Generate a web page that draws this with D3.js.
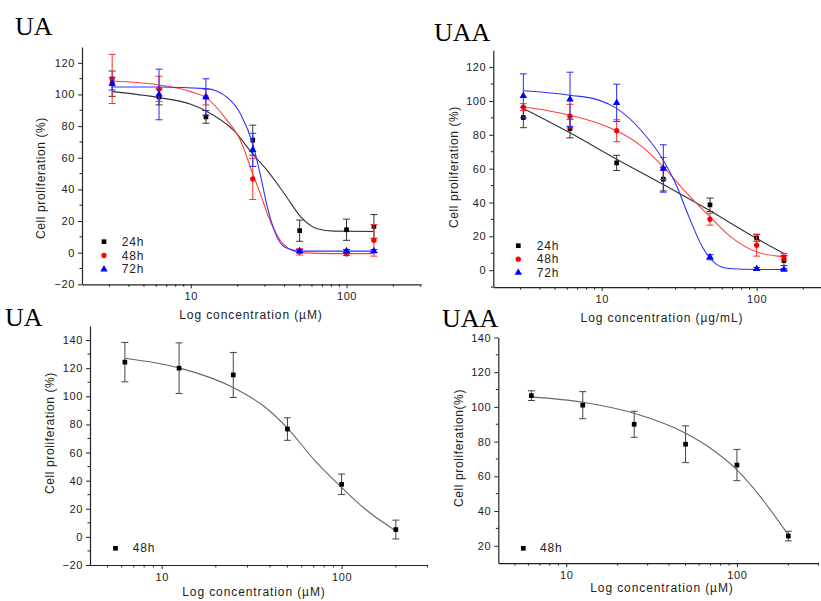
<!DOCTYPE html>
<html>
<head>
<meta charset="utf-8">
<script src="https://cdn.jsdelivr.net/npm/d3@7"></script>
<style>
  body { margin: 0; background: #fff; }
  svg text { font-family: "Liberation Sans", Arial, sans-serif; fill: #222; }
  .title { font-family: "Liberation Serif", "Times New Roman", serif; fill: #000; }
</style>
</head>
<body>
<div id="chartDiv"></div>
<script>
// concentrations
var concTop = [3.125, 6.25, 12.5, 25, 50, 100, 150];
var concBottom = [6.25, 12.5, 25, 50, 100, 200];

// UA (top left), mean and error
var ua24 = [106.8, 98.4, 85.8, 71.1, 13.9, 14.5, 16.6];
var ua24Err = [8, 5, 4, 9.5, 6.7, 6.7, 7.5];
var ua48 = [109.8, 103.5, 98.4, 46.6, 0.5, -0.8, 7.8];
var ua48Err = [15.5, 8, 5, 13, 2, 1, 10];
var ua72 = [106.8, 100, 98.4, 65, 1, 1, 1];
var ua72Err = [4, 16, 11.5, 10.5, 1, 1, 1];

// UAA (top right)
var uaa24 = [90.2, 83.7, 63.4, 53.8, 38.6, 19.1, 5.7];
var uaa24Err = [6, 5.5, 4.5, 7, 4, 2, 3];
var uaa48 = [96.4, 91, 82.4, 60.1, 30.1, 14.8, 7.9];
var uaa48Err = [2, 7, 6.5, 6.5, 3.5, 6.5, 2];
var uaa72 = [103, 101, 98.9, 60.1, 7.7, 0.8, 0.4];
var uaa72Err = [13, 16, 11, 14, 1.5, 0.8, 0.5];

// bottom panels, 48h
var uaB48 = [124.3, 120, 115.2, 76.7, 37.4, 5.2];
var uaB48Err = [14, 18, 16, 8, 7.3, 6.7];
var uaaB48 = [106.5, 101, 90, 78.5, 66.5, 25.6];
var uaaB48Err = [2.8, 7.8, 7.5, 10.6, 9, 2.8];

// fitted curves as [concentration, value]
var uaFit24 = [[3.125,101.8],[6.25,98],[10,93.8],[12.5,89.6],[19,77],[25,62.3],[31,51.8],[40,37.1],[51,22.5],[65,15.1],[83,13.6],[150,13.4]];
var uaFit48 = [[3.125,108.5],[6.25,106],[10,101.8],[12.5,98],[17.2,83.3],[20.9,70.7],[25,49.7],[28,37],[31,24.6],[40,4.6],[51,0],[83,-0.6],[150,-0.6]];
var uaFit72 = [[3.125,104.7],[6.25,104.7],[12.5,103.7],[17.2,98],[20.9,87.5],[25,68.6],[28,49],[31,28.8],[40,3.6],[51,1],[150,1]];
var uaaFit24 = [[3.125,95.6],[6.25,81.2],[12.5,65.6],[25,50.6],[50,35.1],[100,18.7],[150,9.9]];
var uaaFit48 = [[3.125,96.6],[6.25,91.6],[9.6,86.7],[12.5,82.4],[18.3,72.9],[25,61.1],[34.8,46.3],[50,31.5],[66,20.7],[100,10.8],[150,7.9]];
var uaaFit72 = [[3.125,106],[6.25,103.4],[9.6,100.5],[12.5,95.6],[18.3,81.8],[25,65],[30,51.2],[36.6,31.5],[44.6,13.8],[54.3,3.9],[66,1],[100,0.4],[150,0.4]];
var uaBFit = [[6.25,127.1],[12.5,120.2],[25,106.2],[37.5,92.4],[50,77.4],[71,54.3],[100,35.2],[135,19.8],[200,4.3]];
var uaaBFit = [[6.25,105.8],[12.5,102.7],[25,96.3],[50,84.8],[70,76.2],[100,63.7],[137,48.3],[200,26.2]];

var svg = d3.select("#chartDiv").append("svg")
  .attr("width", 821).attr("height", 601);

var black = { mark: "#000", line: "#333", err: "#333" };
var red = { mark: "#ff0000", line: "#ff4040", err: "#ff3030" };
var blue = { mark: "#0000ff", line: "#3030ff", err: "#2828ff" };
var gray = { mark: "#000", line: "#666", err: "#444" };

var panels = [
  { title: "UA", tx: 15, ty: 35, xr: [82, 420.8], xd: [2, 300], yr: [284.3, 47], yd: [-20, 130],
    yTicks: d3.range(-20, 121, 20), yMinor: d3.range(-10, 130, 20),
    xLabel: "Log concentration (\u00b5M)", xlx: 251, xly: 319, yLabel: "Cell proliferation (%)", ylx: 45, yly: 178,
    legend: { x: 104, x2: 121.7, y: 241.7, dy: 13.8 },
    series: [
      { name: "24h", c: black, sym: "square", conc: concTop, v: ua24, e: ua24Err, fit: uaFit24 },
      { name: "48h", c: red, sym: "circle", conc: concTop, v: ua48, e: ua48Err, fit: uaFit48 },
      { name: "72h", c: blue, sym: "triangle", conc: concTop, v: ua72, e: ua72Err, fit: uaFit72 }
    ] },
  { title: "UAA", tx: 434, ty: 41, xr: [493.3, 830.6], xd: [2, 300], yr: [287.1, 50.2], yd: [-10, 130],
    yTicks: d3.range(0, 121, 20), yMinor: d3.range(-10, 130, 20),
    xLabel: "Log concentration (\u00b5g/mL)", xlx: 662, xly: 322, yLabel: "Cell proliferation (%)", ylx: 458, yly: 167,
    legend: { x: 518.3, x2: 536.7, y: 245.7, dy: 13.5 },
    series: [
      { name: "24h", c: black, sym: "square", conc: concTop, v: uaa24, e: uaa24Err, fit: uaaFit24 },
      { name: "48h", c: red, sym: "circle", conc: concTop, v: uaa48, e: uaa48Err, fit: uaaFit48 },
      { name: "72h", c: blue, sym: "triangle", conc: concTop, v: uaa72, e: uaa72Err, fit: uaaFit72 }
    ] },
  { title: "UA", tx: 5, ty: 326, xr: [90, 427.5], xd: [4, 300], yr: [565, 326], yd: [-20, 150],
    yTicks: d3.range(-20, 141, 20), yMinor: d3.range(-10, 150, 20),
    xLabel: "Log concentration (\u00b5M)", xlx: 254, xly: 596, yLabel: "Cell proliferation (%)", ylx: 54, yly: 433,
    legend: { x: 115.5, x2: 132.7, y: 548.3, dy: 14 },
    series: [
      { name: "48h", c: gray, sym: "square", conc: concBottom, v: uaB48, e: uaB48Err, fit: uaBFit }
    ] },
  { title: "UAA", tx: 442, ty: 327, xr: [498.3, 818.4], xd: [4, 300], yr: [563.1, 337.5], yd: [10, 140],
    yTicks: d3.range(20, 141, 20), yMinor: d3.range(30, 140, 20),
    xLabel: "Log concentration (\u00b5M)", xlx: 662, xly: 592, yLabel: "Cell proliferation(%)", ylx: 463, yly: 448,
    legend: { x: 523.3, x2: 540, y: 548.3, dy: 14 },
    series: [
      { name: "48h", c: gray, sym: "square", conc: concBottom, v: uaaB48, e: uaaB48Err, fit: uaaBFit }
    ] }
];

panels.forEach(drawPanel);

function drawPanel(p) {
  var x = d3.scaleLog().domain(p.xd).range(p.xr);
  var y = d3.scaleLinear().domain(p.yd).range(p.yr);
  var g = svg.append("g");

  // title
  svg.append("text").attr("class", "title")
    .attr("x", p.tx).attr("y", p.ty)
    .style("font-size", "26px")
    .text(p.title);

  // x axis, major ticks at decades, minor ones in between
  var minorX = [];
  [1, 10, 100].forEach(function(dec) {
    for (var k = 1; k <= 9; k++) {
      var v = dec * k;
      if (v > p.xd[0] && v <= p.xd[1] && v !== 10 && v !== 100) minorX.push(v);
    }
  });
  var xAxis = g.append("g")
    .attr("transform", "translate(0," + p.yr[0] + ")")
    .call(d3.axisBottom(x).tickValues([10, 100]).tickFormat(d3.format("d")).tickSize(4).tickSizeOuter(0).tickPadding(4));
  g.append("g").selectAll("line").data(minorX).enter().append("line")
    .attr("x1", function(d) { return x(d); }).attr("x2", function(d) { return x(d); })
    .attr("y1", p.yr[0]).attr("y2", p.yr[0] + 2.5)
    .attr("stroke", "#222");

  // y axis
  var yAxis = g.append("g")
    .attr("transform", "translate(" + p.xr[0] + ",0)")
    .call(d3.axisLeft(y).tickValues(p.yTicks).tickFormat(d3.format("d")).tickSize(4).tickSizeOuter(0).tickPadding(3));
  g.append("g").selectAll("line").data(p.yMinor).enter().append("line")
    .attr("x1", p.xr[0] - 2.5).attr("x2", p.xr[0])
    .attr("y1", function(d) { return y(d); }).attr("y2", function(d) { return y(d); })
    .attr("stroke", "#222");

  [xAxis, yAxis].forEach(function(a) {
    a.select(".domain").attr("stroke", "#222").attr("stroke-width", 1.2);
    a.selectAll(".tick line").attr("stroke", "#222");
    a.selectAll(".tick text").style("font-size", "11px").style("letter-spacing", "0.6px")
      .style("font-family", "'Liberation Sans', Arial, sans-serif").attr("fill", "#222");
  });

  // axis labels
  g.append("text").attr("x", p.xlx).attr("y", p.xly)
    .attr("text-anchor", "middle").style("font-size", "12px").style("letter-spacing", "0.9px")
    .text(p.xLabel);
  g.append("text")
    .attr("transform", "translate(" + p.ylx + "," + p.yly + ") rotate(-90)")
    .attr("text-anchor", "middle").style("font-size", "12px").style("letter-spacing", "0.6px")
    .text(p.yLabel);

  var line = d3.line()
    .x(function(d) { return x(d[0]); })
    .y(function(d) { return y(d[1]); })
    .curve(d3.curveMonotoneX);

  p.series.forEach(function(s, si) {
    var pts = s.conc.map(function(c, i) { return { c: c, v: s.v[i], e: s.e[i] }; });

    // error bars
    var eb = g.append("g").attr("stroke", s.c.err).attr("stroke-width", 1);
    pts.forEach(function(d) {
      var cx = x(d.c), y1 = y(d.v - d.e), y2 = y(d.v + d.e);
      eb.append("line").attr("x1", cx).attr("x2", cx).attr("y1", y1).attr("y2", y2);
      eb.append("line").attr("x1", cx - 3.5).attr("x2", cx + 3.5).attr("y1", y1).attr("y2", y1);
      eb.append("line").attr("x1", cx - 3.5).attr("x2", cx + 3.5).attr("y1", y2).attr("y2", y2);
    });

    // fitted curve
    g.append("path").datum(s.fit)
      .attr("d", line)
      .attr("fill", "none")
      .attr("stroke", s.c.line)
      .attr("stroke-width", 1.1);

    // markers
    g.append("g").selectAll("path").data(pts).enter().append("path")
      .attr("d", symbolPath(s.sym))
      .attr("transform", function(d) { return "translate(" + x(d.c) + "," + y(d.v) + ")"; })
      .attr("fill", s.c.mark);

    // legend
    var ly = p.legend.y + si * p.legend.dy;
    g.append("path").attr("d", symbolPath(s.sym))
      .attr("transform", "translate(" + p.legend.x + "," + ly + ")")
      .attr("fill", s.c.mark);
    g.append("text").attr("x", p.legend.x2).attr("y", ly + 4)
      .style("font-size", "12px").style("letter-spacing", "0.8px")
      .text(s.name);
  });
}

function symbolPath(sym) {
  if (sym === "square") return d3.symbol().type(d3.symbolSquare).size(22)();
  if (sym === "circle") return d3.symbol().type(d3.symbolCircle).size(22)();
  return d3.symbol().type(d3.symbolTriangle).size(24)();
}
</script>
</body>
</html>
